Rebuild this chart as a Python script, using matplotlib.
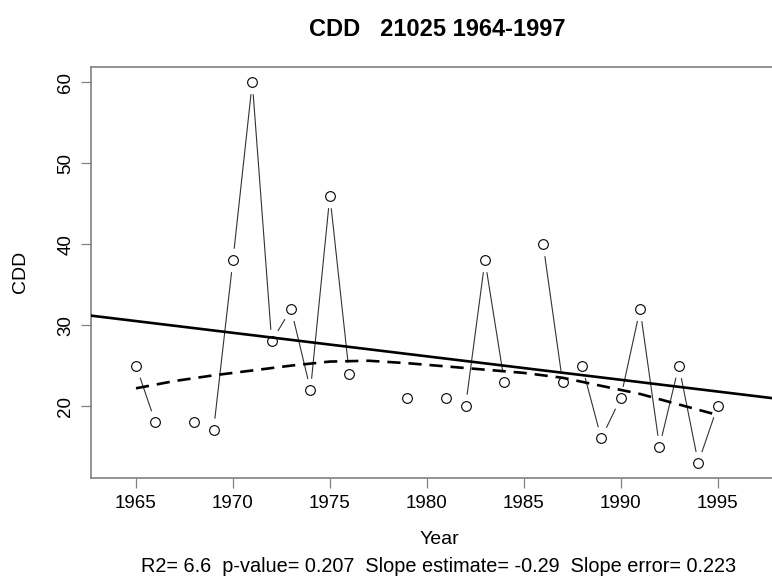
import numpy as np
import matplotlib.pyplot as plt

plt.rcParams['font.family'] = ['Liberation Sans', 'DejaVu Sans']

nan = np.nan
years = np.arange(1965, 1996)
cdd = [25, 18, nan, 18, 17, 38, 60, 28, 32, 22, 46, 24, nan, nan, 21, nan,
       21, 20, 38, 23, nan, 40, 23, 25, 16, 21, 32, 15, 25, 13, 20]

# smoothed curve (dashed)
smooth_years = [1965, 1967, 1969, 1971, 1973, 1975, 1977, 1979,
                1981, 1983, 1985, 1987, 1989, 1991, 1993, 1995]
smooth_vals = [22.2, 23.1, 23.8, 24.4, 25.0, 25.5, 25.6, 25.3,
               24.9, 24.5, 24.1, 23.5, 22.5, 21.5, 20.2, 18.9]

# linear trend
trend_1965 = 30.5
trend_slope = -0.29

xticks = [1965, 1970, 1975, 1980, 1985, 1990, 1995]
yticks = [20, 30, 40, 50, 60]

title = "CDD   21025 1964-1997"
subtitle = "R2= 6.6  p-value= 0.207  Slope estimate= -0.29  Slope error= 0.223"

fig = plt.figure(figsize=(7.72, 5.84), dpi=100)
ax = fig.add_axes([91/772, 106/584, 691/772, 411/584])

# R type="b": lines with gaps around points
ax.plot(years, cdd, color='#333333', lw=0.8, zorder=1)
ax.plot(years, cdd, 'o', ms=17, mfc='white', mec='none', zorder=2)
ax.plot(years, cdd, 'o', ms=7, mfc='white', mec='black', mew=0.8, zorder=3)

ax.axline((1965, trend_1965), slope=trend_slope, color='black', lw=1.9, zorder=4)
ax.plot(smooth_years, smooth_vals, color='black', lw=1.9, dashes=(5, 3), zorder=4)

ax.set_xlim(1962.68, 1998.32)
ax.set_ylim(11.12, 61.88)
ax.set_xticks(xticks)
ax.set_yticks(yticks)
ax.set_yticklabels([str(v) for v in yticks], rotation=90, va='center')
ax.tick_params(direction='out', length=7, width=0.9, color='#808080',
               labelsize=13.5, pad=5)
for s in ax.spines.values():
    s.set_color('#808080')
    s.set_linewidth(1.2)

fig.text(437/772, 1 - 30/584, title, ha='center', va='center',
         fontsize=17, fontweight='bold')
fig.text(439/772, 1 - 540/584, "Year", ha='center', va='center', fontsize=14)
fig.text(439/772, 1 - 566/584, subtitle, ha='center', va='center', fontsize=14.3)
fig.text(20/772, 1 - 272/584, "CDD", ha='center', va='center',
         rotation=90, fontsize=14)

fig.savefig('out.png', dpi=100)
